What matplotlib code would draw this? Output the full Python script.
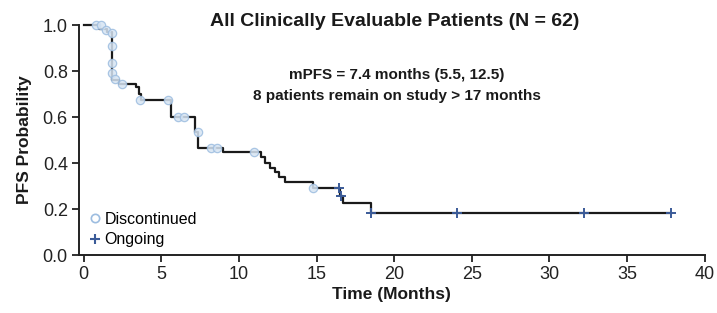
import matplotlib
matplotlib.use("Agg")
import matplotlib.pyplot as plt
from matplotlib.lines import Line2D

# Kaplan-Meier step curve (level after each time)
step_t = [0.0, 1.0, 1.5, 1.85, 2.3, 3.4, 3.55, 3.7, 5.6, 7.2, 7.4, 9.0,
          11.4, 11.7, 12.0, 12.3, 12.6, 13.0, 14.8, 16.5, 16.7, 18.5, 37.8]
step_s = [1.0, 0.984, 0.968, 0.76, 0.745, 0.73, 0.70, 0.675, 0.60, 0.535,
          0.465, 0.448, 0.425, 0.40, 0.38, 0.36, 0.34, 0.318, 0.29, 0.258,
          0.226, 0.185, 0.185]

# discontinued (open circles)
disc_t = [0.8, 1.1, 1.45, 1.85, 1.85, 1.85, 1.85, 2.05, 2.5, 3.65, 5.45,
          6.1, 6.5, 7.35, 8.2, 8.6, 11.0, 14.8]
disc_s = [1.0, 1.0, 0.98, 0.965, 0.91, 0.835, 0.79, 0.765, 0.745, 0.675,
          0.675, 0.60, 0.60, 0.535, 0.465, 0.465, 0.448, 0.29]

# ongoing (plus marks)
ong_t = [16.45, 16.55, 18.5, 24.05, 32.2, 37.8]
ong_s = [0.29, 0.258, 0.185, 0.185, 0.185, 0.185]

xticks = [0, 5, 10, 15, 20, 25, 30, 35, 40]
yticks = [0.0, 0.2, 0.4, 0.6, 0.8, 1.0]

circ_edge = "#9dbde0"
circ_face = "#d6e4f3"
plus_col = "#3b5b98"
ink = "#1a1a1a"

plt.rcParams["font.family"] = ["Liberation Sans", "DejaVu Sans"]

fig = plt.figure(figsize=(7.17, 3.13), dpi=100)
ax = fig.add_axes([0.110, 0.185, 0.873, 0.735])

ax.step(step_t, step_s, where="post", color=ink, lw=1.6, zorder=2,
        clip_on=False)
ax.scatter(disc_t, disc_s, s=36, facecolor=circ_face, edgecolor=circ_edge,
           linewidths=0.9, alpha=0.85, zorder=3, clip_on=False)
ax.scatter(ong_t, ong_s, s=45, marker="+", color=plus_col, linewidths=1.4,
           zorder=4, clip_on=False)

ax.set_xlim(-0.3, 40)
ax.set_ylim(0, 1.0)
ax.set_xticks(xticks)
ax.set_yticks(yticks)
ax.set_xticklabels([str(v) for v in xticks])
ax.set_yticklabels([f"{v:.1f}" for v in yticks])
ax.tick_params(direction="out", length=5, width=1.3, labelsize=13,
               colors="#222222", pad=3)
for side in ["top", "right"]:
    ax.spines[side].set_visible(False)
for side in ["left", "bottom"]:
    ax.spines[side].set_linewidth(1.4)
    ax.spines[side].set_color("#222222")

ax.set_xlabel("Time (Months)", fontsize=12.5, fontweight="bold", labelpad=3,
              color=ink)
ax.set_ylabel("PFS Probability", fontsize=12.5, fontweight="bold", labelpad=8,
              color=ink)

fig.text(0.551, 0.918, "All Clinically Evaluable Patients (N = 62)",
         ha="center", va="baseline", fontsize=14, fontweight="bold", color=ink)
ax.text(0.508, 0.765, "mPFS = 7.4 months (5.5, 12.5)", transform=ax.transAxes,
        ha="center", va="baseline", fontsize=11, fontweight="bold", color=ink)
ax.text(0.508, 0.675, "8 patients remain on study > 17 months",
        transform=ax.transAxes, ha="center", va="baseline", fontsize=11,
        fontweight="bold", color=ink)

handles = [
    Line2D([], [], ls="none", marker="o", markersize=6, markerfacecolor="white",
           markeredgecolor=circ_edge, markeredgewidth=1.2, label="Discontinued"),
    Line2D([], [], ls="none", marker="+", markersize=7, color=plus_col,
           markeredgewidth=1.5, label="Ongoing"),
]
ax.legend(handles=handles, loc="lower left", frameon=False, fontsize=11.5,
          handletextpad=0.1, labelspacing=0.35, borderaxespad=0.1,
          handlelength=1.0, bbox_to_anchor=(0.0, 0.0))

fig.savefig("out.png", dpi=100)
